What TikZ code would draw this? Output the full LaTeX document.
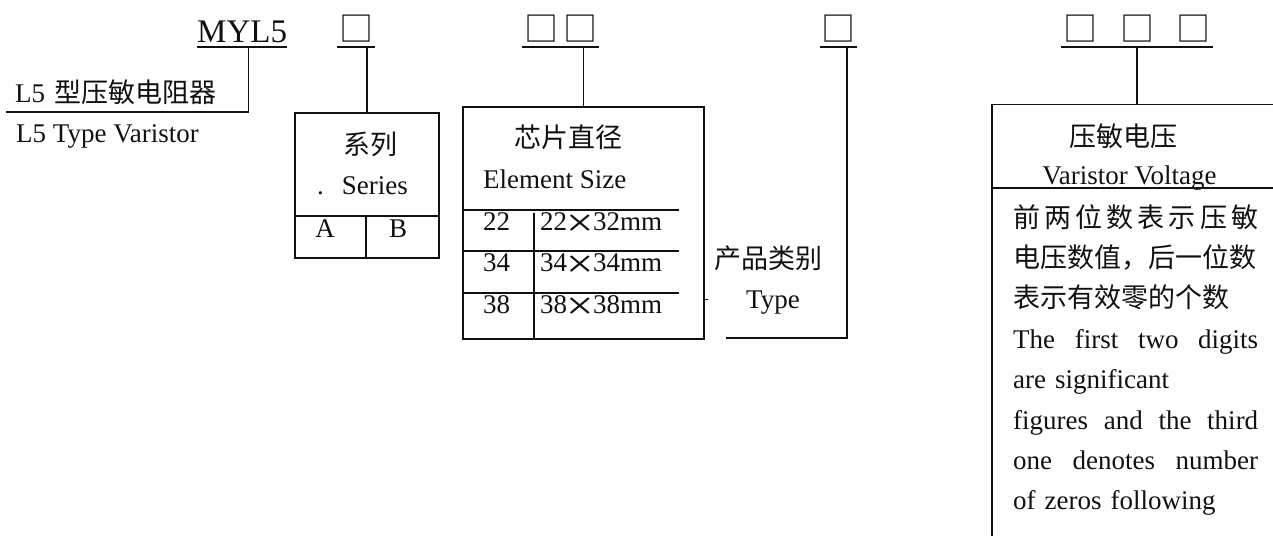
\documentclass[tikz,border=0pt]{standalone}
\usepackage{fontspec}
\usepackage{graphicx}
\setmainfont{Liberation Serif}
\newfontfamily\cjk{Noto Sans CJK SC}
\usetikzlibrary{positioning}
\definecolor{specink}{HTML}{111111}
\newcommand{\crossx}{\hbox to 26pt{\hss\raisebox{-6.5pt}{\scalebox{1.8}[1.5]{×}}\hss}}
\newcommand{\spreadline}[1]{\makebox[\linewidth][s]{\spaceskip=0pt\relax #1}}

\begin{document}
\begin{tikzpicture}[
  x=1pt,
  y=-1pt,
  every node/.style={font=\fontsize{27}{40.4}\selectfont, specink, inner sep=0pt},
  rule/.style={specink, line width=1.7pt},
  underrule/.style={specink, line width=2pt},
  code/.style={anchor=south, inner xsep=1.5pt, inner ysep=0pt, text depth=6pt,
               font=\fontsize{34}{36}\selectfont\cjk},
  frame/.style={draw=specink, line width=1.7pt, anchor=north west}
]
  \useasboundingbox (0,0) rectangle (1273,535);
  \clip (0,0) rectangle (1273,535);

  %% ---- 型号代码 ----------------------------------------------------------
  \node[anchor=base west, font=\fontsize{33}{36}\selectfont] (myl5) at (197,42.5) {MYL5};
  \draw[underrule] ([yshift=-5pt]myl5.base west) -- ([yshift=-5pt]myl5.base east);

  \node[code] (c1) at (356,47.5) {□};
  \node[code] (c2) at (560.5,47.5) {□\hspace{5pt}□};
  \node[code] (c3) at (838.5,47.5) {□};
  \node[code] (c4) at (1137,47.5) {□\hspace{23pt}□\hspace{23pt}□};
  \foreach \c in {c1,c2,c3,c4}
    \draw[underrule] (\c.south west) -- (\c.south east);

  %% ---- L5 型压敏电阻器 ---------------------------------------------------
  \coordinate (l5foot) at (6,112);
  \draw[rule] ([xshift=6.5pt,yshift=-5pt]myl5.base) |- (l5foot);
  \node[anchor=base west] (l5cn) at (15,102) {L5\hspace{9pt}{\cjk 型压敏电阻器}};
  \node[anchor=base west] (l5en) at (16,142) {L5 Type Varistor};

  %% ---- 系列 --------------------------------------------------------------
  \node[frame, minimum width=144pt, minimum height=145pt] (series) at (294,112) {};
  \draw[rule] (series.north) -- (series.north |- c1.south);
  \coordinate (seriesrow) at (366,216);
  \draw[rule] (series.west |- seriesrow) -- (series.east |- seriesrow);
  \draw[rule] (seriesrow) -- (seriesrow |- series.south);
  \node (seriescn) at (370,144) {\cjk 系列};
  \node[anchor=base west] (seriesen) at (317,194) {.\hspace{18pt}Series};
  \node[anchor=base] (seriesa) at (325,237) {A};
  \node[anchor=base] (seriesb) at (398,237) {B};

  %% ---- 芯片直径 ----------------------------------------------------------
  \node[frame, minimum width=241pt, minimum height=232pt] (elem) at (462,106) {};
  \draw[rule] (elem.north) -- (elem.north |- c2.south);
  \node (elemcn) at (568,137) {\cjk 芯片直径};
  \node[anchor=base west] (elemen) at (483,188) {Element Size};
  \foreach \y in {210,251,293}
    \draw[rule] (elem.west |- 0,\y) -- (679,\y);
  \coordinate (elemcol) at (534,213);
  \draw[rule] (elemcol) -- (elemcol |- elem.south);
  \draw[specink, line width=0.8pt] (elem.east |- 0,299) -- ++(3,0);
  \foreach \k/\s/\b in {22/22\crossx 32/230, 34/34\crossx 34/271, 38/38\crossx 38/313} {
    \node[anchor=base west] (elemk\k) at (483,\b) {\k};
    \node[anchor=base west] (elems\k) at (540,\b) {\s mm};
  }

  %% ---- 产品类别 ----------------------------------------------------------
  \coordinate (typefoot) at (726,338);
  \draw[rule] (typefoot) -| ([xshift=8.5pt]c3.south);
  \node (typecn) at (768,258) {\cjk 产品类别};
  \node[anchor=base] (typeen) at (773,308) {Type};

  %% ---- 压敏电压 ----------------------------------------------------------
  \node[frame, minimum width=300pt, minimum height=450pt] (volt) at (991,103.5) {};
  \draw[rule] (c4.south) -- (c4.south |- volt.north);
  \draw[rule] (volt.west |- 0,188) -- (volt.east |- 0,188);
  \node (voltcn) at (1123,136) {\cjk 压敏电压};
  \node[anchor=base] (volten) at (1129.5,184) {Varistor Voltage};
  \node[anchor=base west, text width=245pt, align=left] (voltnote) at (1013,227) {%
    {\cjk\makebox[\linewidth][s]{前\hfill 两\hfill 位\hfill 数\hfill 表\hfill 示\hfill 压\hfill 敏}}\\
    {\cjk 电压数值，后一位数}\\
    {\cjk 表示有效零的个数}\\
    \spreadline{The first two digits}\\
    are significant\\
    \spreadline{figures and the third}\\
    \spreadline{one denotes number}\\
    of zeros following};
\end{tikzpicture}
\end{document}
